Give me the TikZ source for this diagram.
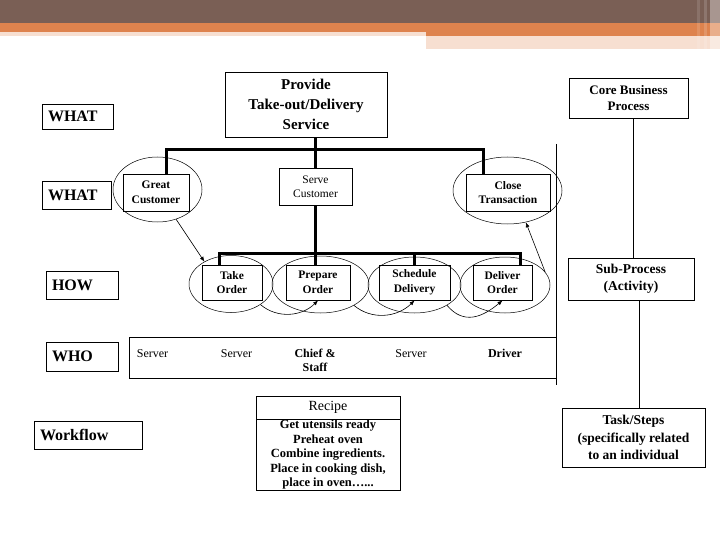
\documentclass[tikz,border=0pt]{standalone}
\usepackage{fontspec}
\setmainfont{Liberation Serif}
\usetikzlibrary{shapes.geometric,arrows.meta}
\definecolor{bandbrown}{HTML}{7A5F55}
\definecolor{bandorange}{HTML}{DE834E}
\definecolor{bandpeach}{HTML}{F7DFD1}
\begin{document}
\begin{tikzpicture}[x=1pt,y=-1pt,
    box/.style={draw,line width=0.8pt,inner sep=1pt,align=center},
    small/.style={box,font=\fontsize{11.5}{14.5}\selectfont\bfseries},
    lbl/.style={draw,line width=0.8pt,inner xsep=6pt,inner ysep=0pt,text width=#1,
      align=left,minimum height=28pt,font=\fontsize{16}{18}\selectfont\bfseries},
    side/.style={box,font=\fontsize{13.5}{17.5}\selectfont\bfseries},
    crew/.style={inner sep=0pt,anchor=north,align=center,font=\fontsize{12}{14}\selectfont},
    ring/.style={draw,ellipse,line width=0.5pt,inner sep=0pt},
    tree/.style={line width=3pt},
    flow/.style={line width=0.6pt,-{Latex[length=5pt,width=4pt]}}]
  \useasboundingbox (0,0) rectangle (720,540);
  % header bands
  \fill[bandbrown] (0,0) rectangle (720,23);
  \fill[bandorange] (0,23) rectangle (720,32);
  \fill[bandpeach] (0,32) rectangle (426,36);
  \fill[bandorange] (426,32) rectangle (720,36);
  \fill[bandpeach] (426,36) rectangle (720,49);
  \fill[white,opacity=0.12] (697,0) rectangle (700,49);
  \fill[white,opacity=0.15] (704,0) rectangle (707,49);
  \fill[white,opacity=0.35] (710,0) rectangle (720,49);
  % level labels
  \node[lbl=59pt,minimum height=25pt] (what1) at (77.5,116.5) {WHAT};
  \node[lbl=57pt] (what2) at (76.5,195) {WHAT};
  \node[lbl=60pt] (how) at (82,285) {HOW};
  \node[lbl=60pt,minimum height=29pt] (who) at (82,356.5) {WHO};
  \node[lbl=96pt] (workflow) at (88,435) {Workflow};
  % process tree
  \node[box,minimum width=162pt,minimum height=65pt,
    font=\fontsize{15}{20}\selectfont\bfseries] (provide) at (306,104.5)
    {Provide\\Take-out/Delivery\\Service};
  \node[small,minimum width=66pt,minimum height=37pt] (great) at (156,192.5) {Great\\Customer};
  \node[box,minimum width=73pt,minimum height=37pt,
    font=\fontsize{11.5}{14.5}\selectfont] (serve) at (315.5,186.5) {Serve\\Customer};
  \node[small,minimum width=84pt,minimum height=37pt] (close) at (508,192.5) {Close\\Transaction};
  \node[small,minimum width=60pt,minimum height=35pt] (take) at (232,282.5) {Take\\Order};
  \node[small,minimum width=64pt,minimum height=35pt] (prepare) at (318,282.5) {Prepare\\Order};
  \node[small,minimum width=71pt,minimum height=35pt] (schedule) at (414.5,282.5) {Schedule\\Delivery};
  \node[small,minimum width=59pt,minimum height=35pt] (deliver) at (502.5,282.5) {Deliver\\Order};
  \coordinate (bus1) at (315,150);
  \coordinate (bus2) at (315,253);
  \draw[tree] ([xshift=10pt]great.north) |- (bus1) -| ([xshift=-25pt]close.north);
  \draw[tree] (provide.south -| bus1) -- (serve.north -| bus1);
  \draw[tree] (serve.south -| bus2) -- (bus2);
  \draw[tree] ([xshift=-13pt]take.north) |- (bus2) -| ([xshift=17.5pt]deliver.north);
  \draw[tree] (bus2) -- (prepare.north -| bus2);
  \draw[tree] (bus2 -| schedule.north) -- (schedule.north);
  % rings and flow
  \node[ring,minimum width=89pt,minimum height=65pt] (greatring) at (157.5,189.5) {};
  \node[ring,minimum width=109pt,minimum height=67pt] (closering) at (507.5,190.5) {};
  \node[ring,minimum width=84pt,minimum height=57pt] (takering) at (231,284) {};
  \node[ring,minimum width=97pt,minimum height=57pt] (prepring) at (320.5,284.5) {};
  \node[ring,minimum width=93pt,minimum height=56pt] (schedring) at (414.5,285) {};
  \node[ring,minimum width=90pt,minimum height=56pt] (delring) at (505,285) {};
  \draw[flow] (greatring.-58) -- (takering.140);
  \draw[flow] (takering.-35) to[out=-40,in=-135] (prepare.south);
  \draw[flow] (prepring.-32) to[out=-40,in=-135] (schedule.south);
  \draw[flow] (schedring.-32) to[out=-50,in=-140,looseness=1.2] (deliver.south);
  \draw[flow] (delring.18) -- (closering.-60);
  \coordinate (railtop) at (556,144);
  \coordinate (railbot) at (556,385);
  \draw[line width=0.8pt] (railtop) -- (railbot);
  % who row
  \node[box,minimum width=427pt,minimum height=41pt] (crewbox) at (342.5,357.5) {};
  \node[crew] (server1) at (152.5,349) {Server};
  \node[crew] (server2) at (236.5,349) {Server};
  \node[crew,font=\fontsize{12}{14}\selectfont\bfseries] (chief) at (315,349) {Chief \&\\Staff};
  \node[crew] (server3) at (411,349) {Server};
  \node[crew,font=\fontsize{12}{14}\selectfont\bfseries] (driver) at (505,349) {Driver};
  % recipe
  \node[box,minimum width=144pt,minimum height=23pt,
    font=\fontsize{14}{16}\selectfont] (recipehead) at (328,407.5) {Recipe};
  \node[box,minimum width=144pt,minimum height=71pt,inner sep=0pt,
    font=\fontsize{12.5}{14.5}\selectfont\bfseries] (recipebody) at (328,454.5)
    {Get utensils ready\\Preheat oven\\Combine ingredients.\\Place in cooking dish,\\place in oven…...};
  % right column
  \node[side,minimum width=119pt,minimum height=40pt,
    font=\fontsize{13}{16}\selectfont\bfseries] (core) at (628.5,98) {Core Business\\Process};
  \node[side,minimum width=126pt,minimum height=42pt] (sub) at (631,279) {Sub-Process\\(Activity)};
  \node[side,minimum width=143pt,minimum height=59pt] (task) at (633.5,437.5)
    {Task/Steps\\(specifically related\\to an individual};
  \draw[line width=0.8pt] ([xshift=4.5pt]core.south) -- ([xshift=4.5pt]core.south |- sub.north);
  \draw[line width=0.8pt] ([xshift=8pt]sub.south) -- ([xshift=8pt]sub.south |- task.north);
\end{tikzpicture}
\end{document}
